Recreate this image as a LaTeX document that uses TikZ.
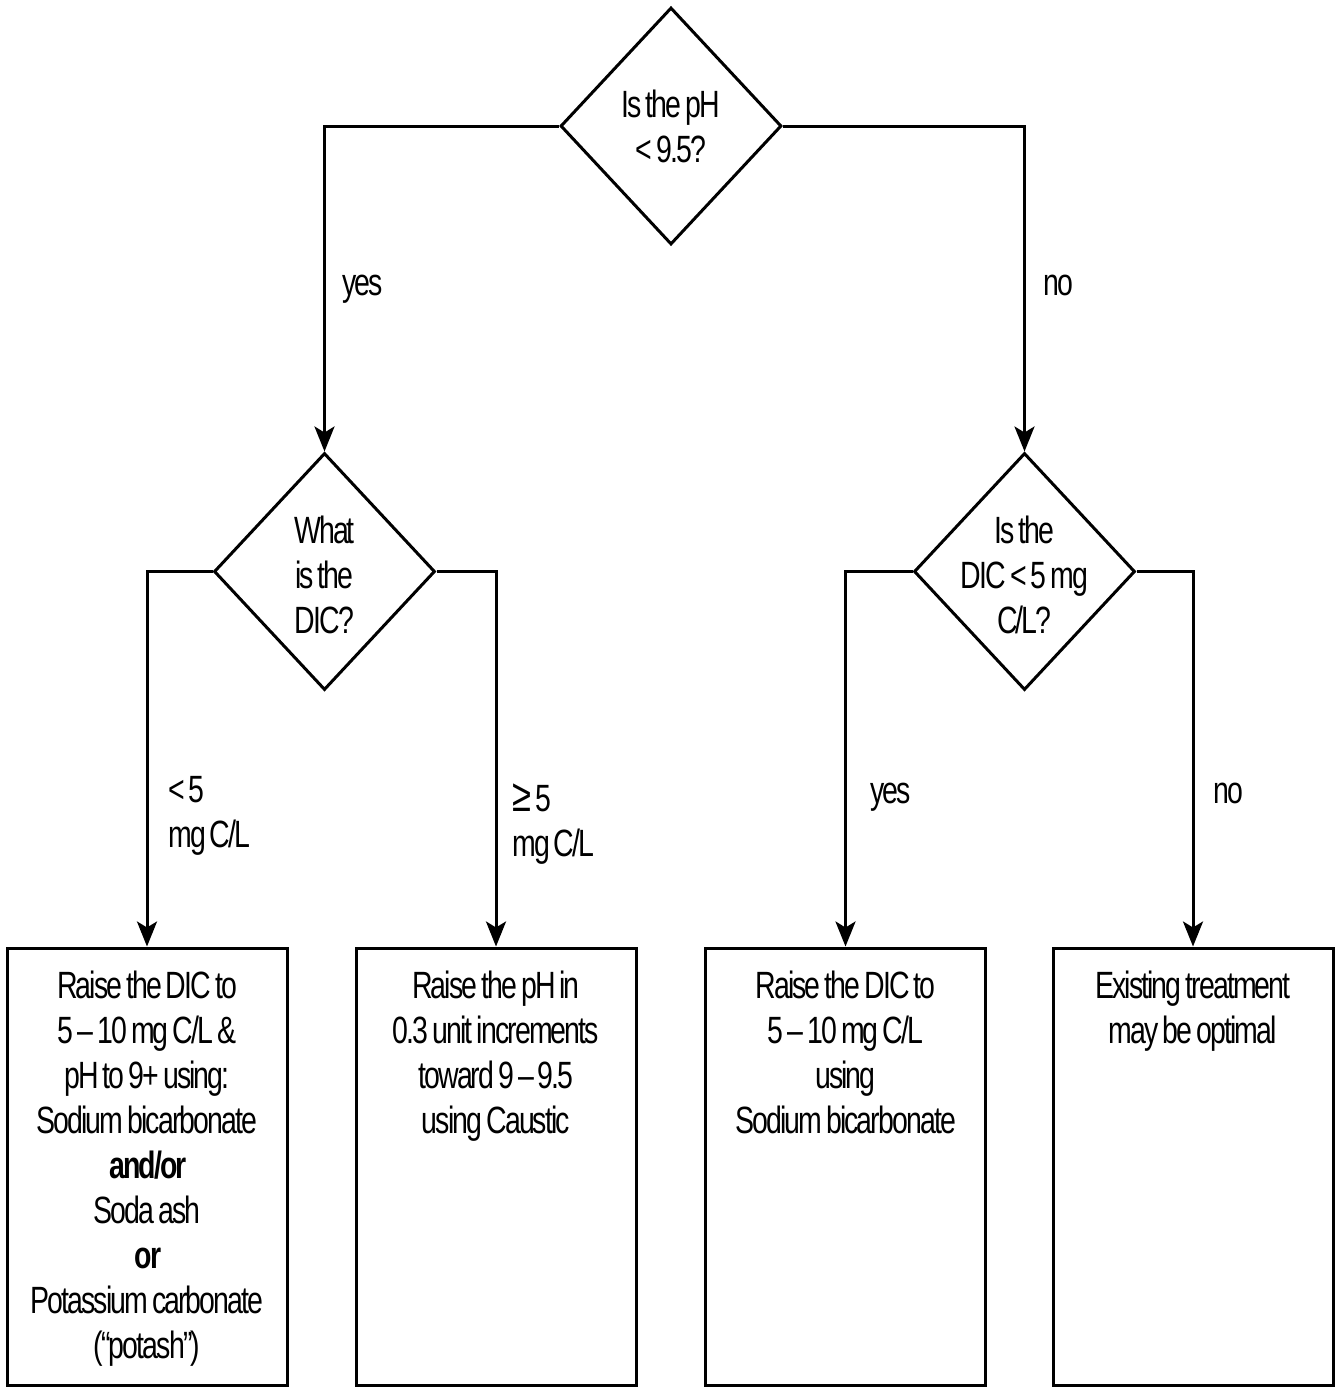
\documentclass[tikz,border=0pt]{standalone}
\usepackage{fontspec}
\setmainfont{Liberation Sans}[FakeStretch=0.75,LetterSpace=-5,WordSpace=0.65]
\usetikzlibrary{shapes.geometric,arrows.meta}
\newcommand{\fsz}{\fontsize{19pt}{22.5pt}\selectfont}
\begin{document}
\begin{tikzpicture}[x=0.5pt,y=-0.5pt,
  dia/.style={draw,shape=diamond,line width=1.5pt,minimum width=110.5pt,minimum height=118.5pt,inner sep=0pt},
  stepbox/.style={draw,rectangle,line width=1.5pt,minimum width=140pt,minimum height=218.5pt,inner sep=0pt},
  txt/.style={font=\fsz,align=center,inner sep=0pt},
  lbl/.style={font=\fsz,align=left,inner sep=0pt},
  conn/.style={line width=1.5pt,-{Stealth[length=12.5pt,width=10pt,inset=3pt]}}]
\useasboundingbox (0,0) rectangle (1334,1387);
% decision diamonds
\node[dia] (d1) at (671,126) {};
\node[dia] (d2) at (324.5,571.5) {};
\node[dia] (d3) at (1024.5,571.5) {};
\node[txt] (t1) at (671,126) {Is the pH\\< 9.5?};
\node[txt] (t2) at (324.5,575) {What\\is the\\DIC?};
\node[txt] (t3) at (1024.5,575) {Is the\\DIC < 5 mg\\C/L?};
% result boxes
\node[stepbox] (b1) at (147,1166.5) {};
\node[stepbox] (b2) at (496,1166.5) {};
\node[stepbox] (b3) at (845.5,1166.5) {};
\node[stepbox] (b4) at (1193,1166.5) {};
\node[txt,anchor=north] (bt1) at ([yshift=-12pt]b1.north) {Raise the DIC to\\5 – 10 mg C/L \&\\pH to 9+ using:\\Sodium bicarbonate\\\textbf{and/or}\\Soda ash\\\textbf{or}\\Potassium carbonate\\(“potash”)};
\node[txt,anchor=north] (bt2) at ([yshift=-12pt]b2.north) {Raise the pH in\\0.3 unit increments\\toward 9 – 9.5\\using Caustic};
\node[txt,anchor=north] (bt3) at ([yshift=-12pt]b3.north) {Raise the DIC to\\5 – 10 mg C/L\\using\\Sodium bicarbonate};
\node[txt,anchor=north] (bt4) at ([yshift=-12pt]b4.north) {Existing treatment\\may be optimal};
% connectors
\draw[conn] (d1.west) -| (d2.north);
\draw[conn] (d1.east) -| (d3.north);
\draw[conn] (d2.west) -| (b1.north);
\draw[conn] (d2.east) -| (b2.north);
\draw[conn] (d3.west) -| (b3.north);
\draw[conn] (d3.east) -| (b4.north);
% labels
\node[lbl,anchor=base west] (l1) at (342,295) {yes};
\node[lbl,anchor=base west] (l2) at (1043,295) {no};
\node[lbl,anchor=north west] (l3) at (168,776) {< 5\\mg C/L};
\node[lbl,anchor=north west] (l4) at (512,783) {{\fontsize{23pt}{22.5pt}\selectfont ≥} 5\\mg C/L};
\node[lbl,anchor=base west] (l5) at (870,803) {yes};
\node[lbl,anchor=base west] (l6) at (1213,803) {no};
\end{tikzpicture}
\end{document}
